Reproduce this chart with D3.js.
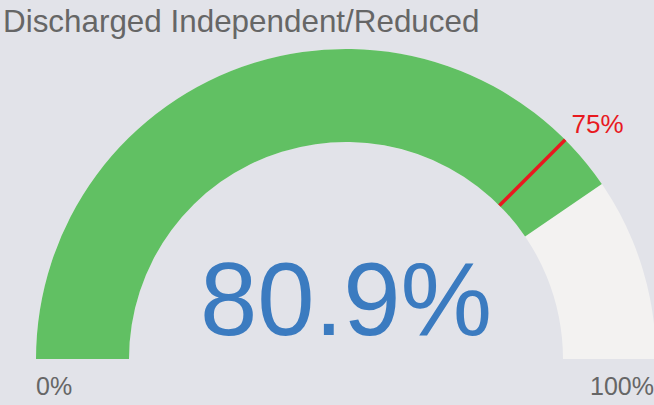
<!DOCTYPE html>
<html>
<head>
<meta charset="utf-8">
<script src="https://cdn.jsdelivr.net/npm/d3@7"></script>
<style>
  html, body { margin: 0; padding: 0; background: #e2e3e9; }
  svg { display: block; font-family: "Liberation Sans", Arial, sans-serif; }
</style>
</head>
<body>
<div id="chart"></div>
<script>
// gauge data
const title      = "Discharged Independent/Reduced";
const domain     = [ 0, 100 ];
const value      = [ 80.9 ];
const target     = [ 75 ];
const endLabels  = [ "0%", "100%" ];

const width  = 654,
      height = 405;

const cx = 346, cy = 359;
const outerR = 310, innerR = 217;

const angle = d3.scaleLinear()
    .domain( domain )
    .range( [ -Math.PI / 2, Math.PI / 2 ] );

const svg = d3.select( "#chart" )
    .append( "svg" )
    .attr( "width", width )
    .attr( "height", height );

svg.append( "text" )
    .attr( "x", 3 )
    .attr( "y", 32 )
    .attr( "font-size", 31.4 )
    .attr( "fill", "#666" )
    .text( title );

const g = svg.append( "g" )
    .attr( "transform", `translate(${ cx },${ cy })` );

const arc = d3.arc()
    .innerRadius( innerR )
    .outerRadius( outerR );

// background track
g.append( "path" )
    .attr( "fill", "#f3f2f1" )
    .attr( "d", arc( { startAngle: angle( domain[0] ), endAngle: angle( domain[1] ) } ) );

// value
g.selectAll( "path.val" )
    .data( value )
    .join( "path" )
    .attr( "class", "val" )
    .attr( "fill", "#61c063" )
    .attr( "d", d => arc( { startAngle: angle( domain[0] ), endAngle: angle( d ) } ) );

// target marker
const tg = g.selectAll( "g.target" )
    .data( target )
    .join( "g" )
    .attr( "class", "target" );

tg.append( "line" )
    .attr( "x1", d => innerR * Math.sin( angle( d ) ) )
    .attr( "y1", d => -innerR * Math.cos( angle( d ) ) )
    .attr( "x2", d => outerR * Math.sin( angle( d ) ) )
    .attr( "y2", d => -outerR * Math.cos( angle( d ) ) )
    .attr( "stroke", "#e8191f" )
    .attr( "stroke-width", 3.5 );

tg.append( "text" )
    .attr( "x", d => ( outerR + 9 ) * Math.sin( angle( d ) ) )
    .attr( "y", d => -( outerR + 9 ) * Math.cos( angle( d ) ) )
    .attr( "font-size", 26 )
    .attr( "fill", "#e8191f" )
    .text( d => d + "%" );

// value label
g.selectAll( "text.val" )
    .data( value )
    .join( "text" )
    .attr( "class", "val" )
    .attr( "x", 0 )
    .attr( "y", -24 )
    .attr( "text-anchor", "middle" )
    .attr( "font-size", 103 )
    .attr( "fill", "#3b7bc0" )
    .text( d => d3.format( ".1f" )( d ) + "%" );

// end labels
svg.append( "text" )
    .attr( "x", 36 )
    .attr( "y", 395 )
    .attr( "font-size", 25 )
    .attr( "fill", "#666" )
    .text( endLabels[0] );

svg.append( "text" )
    .attr( "x", 654 )
    .attr( "y", 395 )
    .attr( "text-anchor", "end" )
    .attr( "font-size", 25 )
    .attr( "fill", "#666" )
    .text( endLabels[1] );
</script>
</body>
</html>
